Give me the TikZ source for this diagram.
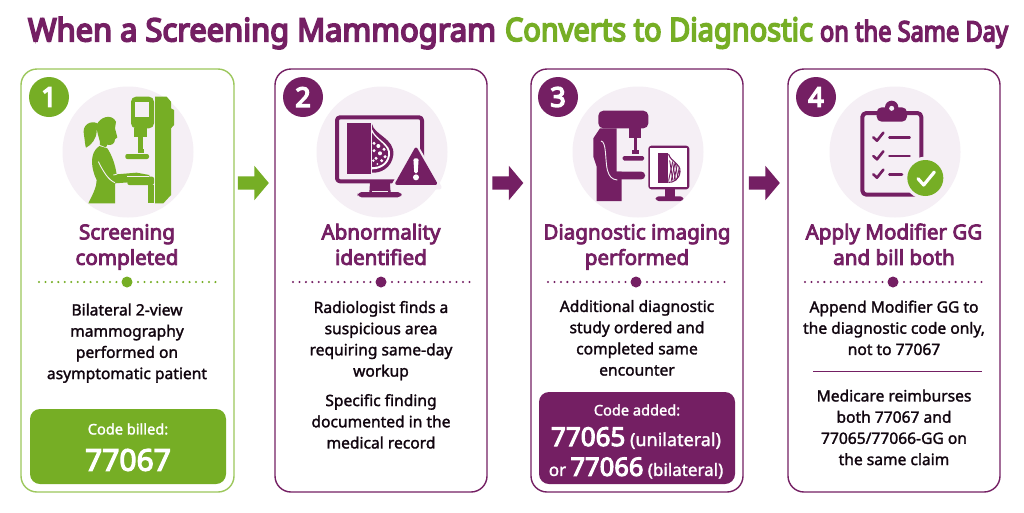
\documentclass[tikz,border=0pt]{standalone}
\usepackage{fontspec}
\usetikzlibrary{shapes.arrows}
\setmainfont{Noto Sans}
\newfontfamily\bodyf{Noto Sans}[FakeBold=1.7]
\newfontfamily\headf{Noto Sans}[FakeBold=4]
\newfontfamily\titlef{Noto Sans}[FakeBold=5.5]
\definecolor{plum}{HTML}{741F63}
\definecolor{leaf}{HTML}{76AE25}
\definecolor{leafedge}{HTML}{9CC75C}
\definecolor{halo}{HTML}{F5EFF5}
\newsavebox\fitbox
\newcommand\fitx[2]{\sbox\fitbox{#2}\pgfmathsetmacro\fitratio{#1/(\wd\fitbox/1pt)}\scalebox{\fitratio}[1]{\usebox\fitbox}}
\tikzset{
  card/.style={draw=#1,line width=1.4pt,fill=white,rounded corners=16pt},
  halodisc/.style={fill=halo,draw=none,circle,minimum size=131pt,inner sep=0pt},
  badge/.style={fill=#1,circle,minimum size=40pt,inner sep=0pt,text=white,font={\titlef\fontsize{27}{27}\selectfont}},
  headtxt/.style={align=center,text=plum,inner sep=0pt,font={\headf\fontsize{20.6}{25.5}\selectfont}},
  bodytxt/.style={align=center,text=black!85!plum,inner sep=0pt,font={\bodyf\fontsize{15.6}{21.2}\selectfont}},
  flow/.style={single arrow,fill=#1,draw=none,inner xsep=0pt,inner ysep=6.5pt,minimum height=31pt,minimum width=34pt,single arrow head extend=10.5pt,single arrow tip angle=100},
  dotrow/.style={draw=#1,line width=2.3pt,line cap=round,dash pattern=on 0pt off 6.45pt},
  codebox/.style={fill=#1,rounded corners=10pt,draw=none},
  zoomed/.style={x=0.33333pt,y=-0.33333pt},
  stroke/.style={draw=#1,line cap=round,line join=round,fill=none},
}
\begin{document}
\begin{tikzpicture}[x=1pt,y=-1pt]
\useasboundingbox (0,0) rectangle (1024,512);
\fill[white] (0,0) rectangle (1024,512);
% title
\node[inner sep=0pt,text=plum,font={\titlef\fontsize{32}{32}\selectfont}] (t1) at (262,33) {\fitx{468}{When a Screening Mammogram}};
\node[inner sep=0pt,text=leaf,font={\titlef\fontsize{32}{32}\selectfont}] (t2) at (659,33) {\fitx{308}{Converts to Diagnostic}};
\node[inner sep=0pt,text=plum,font={\titlef\fontsize{28}{28}\selectfont}] (t3) at (914,34) {\fitx{188}{on the Same Day}};
% cards
\draw[card=leafedge] (21,69) rectangle (234,492);
\draw[card=plum] (275,69) rectangle (487,492);
\draw[card=plum] (531,69) rectangle (743,492);
\draw[card=plum] (788,69) rectangle (1000,492);
% icon discs
\node[halodisc] (d1) at (128,152) {};
\node[halodisc] (d2) at (382,152) {};
\node[halodisc] (d3) at (638,152) {};
\node[halodisc] (d4) at (895,152) {};
% badges
\node[badge=leaf] (n1) at (49,97) {1};
\node[badge=plum] (n2) at (303,97) {2};
\node[badge=plum] (n3) at (558,97) {3};
\node[badge=plum] (n4) at (816,97) {4};
% flow arrows
\node[flow=leaf] (a1) at (250.5,183) {};
\node[flow=plum] (a2) at (505,183) {};
\node[flow=plum] (a3) at (761.5,183) {};
% icon 1
\begin{scope}[shift={(0,60)},zoomed]
  \fill[leaf,rounded corners=5pt] (393,110) rectangle (462,205);
  \fill[halo] (405,125) rectangle (447,170);
  \fill[leaf] (403,205) rectangle (440,230);
  \fill[leaf] (415,230) rectangle (428,268);
  \fill[leaf] (414,266) rectangle (432,280);
  \fill[leaf,rounded corners=2pt] (376,282) rectangle (447,297);
  \fill[leaf] (465,110) -- (500,110) -- (513,125) -- (513,145) -- (522,150) -- (522,195) -- (513,205) -- (513,405) -- (490,430) -- (465,430) -- cycle;
  \fill[leaf,rounded corners=2pt] (382,350) rectangle (462,375);
  \fill[leaf] (445,375) rectangle (462,430);
  % woman
  \fill[leaf] (290,195) .. controls (300,170) and (335,160) .. (348,185) -- (345,205) -- (352,232) -- (345,238) .. controls (345,250) and (335,258) .. (322,254) -- (318,262) -- (300,255) .. controls (302,240) and (290,225) .. (290,195) -- cycle;
  \fill[leaf] (293,190) .. controls (270,180) and (245,195) .. (252,225) .. controls (255,245) and (255,255) .. (258,263) .. controls (275,255) and (290,235) .. (290,212) -- cycle;
  \fill[leaf] (298,258) -- (322,265) .. controls (335,285) and (345,310) .. (350,343) -- (410,338) -- (448,345) -- (448,356) -- (415,365) -- (345,370) -- (345,430) -- (265,430) .. controls (280,400) and (290,380) .. (290,360) .. controls (275,330) and (265,280) .. (298,258) -- cycle;
  \draw[halo,line width=0.9pt] (295,305) .. controls (310,335) and (325,360) .. (345,368);
  \draw[halo,line width=0.9pt] (350,343) -- (340,345);
  \draw[halo,line width=0.8pt] (382,350) -- (448,350);
\end{scope}
% icon 2
\begin{scope}[shift={(270,60)},zoomed]
  \draw[stroke=plum,line width=4pt,rounded corners=3pt] (201,172) rectangle (456,364);
  \fill[plum] (300,368) -- (360,368) -- (362,398) -- (298,398) -- cycle;
  \fill[plum,rounded corners=4pt] (263,396) rectangle (395,412);
  \fill[halo] (305,396) -- (355,396) -- (355,393) -- (305,393) -- cycle;
  \fill[plum] (232,190) rectangle (302,342);
  \fill[plum] (306,192) .. controls (312,225) and (375,235) .. (370,285) .. controls (365,325) and (330,340) .. (306,338) -- cycle;
  \fill[white] (306,208) .. controls (318,240) and (364,250) .. (360,285) .. controls (356,315) and (330,328) .. (306,328) -- cycle;
  \fill[plum] (306,218) .. controls (325,245) and (358,258) .. (354,285) .. controls (350,310) and (328,323) .. (306,321) -- cycle;
  \foreach \px/\py/\pr in {312/250/5,325/258/6,342/268/5,312/272/5,330/280/6,345/290/5,318/295/5,335/302/5,322/312/3,310/302/4}
    \fill[white] (\px,\py) circle[radius=\pr];
  \fill[halo,draw=halo,line width=4pt,line join=round] (438,257) -- (509,382) -- (367,382) -- cycle;
  \fill[plum,draw=plum,line width=3pt,line join=round] (438,267) -- (497,370) -- (380,370) -- cycle;
  \fill[white,rounded corners=1.5pt] (430,295) -- (446,295) -- (443,340) -- (433,340) -- cycle;
  \fill[white] (438,352) circle[radius=9];
\end{scope}
% icon 3
\begin{scope}[shift={(520,60)},zoomed]
  \fill[plum,rounded corners=5pt] (235,152) rectangle (385,205);
  \fill[plum] (328,205) rectangle (364,235);
  \fill[plum] (342,235) rectangle (352,270);
  \fill[plum] (337,270) rectangle (357,282);
  \fill[plum,rounded corners=1.5pt] (308,288) rectangle (372,302);
  \fill[plum] (240,205) -- (290,205) -- (290,335) -- (305,335) -- (305,423) -- (230,423) -- (230,320) -- (220,290) -- (220,235) -- cycle;
  \fill[plum,rounded corners=3.5pt] (280,335) rectangle (375,358);
  \draw[halo,line width=0.9pt] (243,243) .. controls (260,245) and (255,300) .. (262,330) .. controls (268,350) and (275,358) .. (292,360);
  \draw[stroke=plum,line width=2.7pt,rounded corners=2pt] (389,261) rectangle (504,384);
  \fill[white] (391,263) rectangle (502,382);
  \fill[plum] (436,386) -- (465,386) -- (465,410) -- (436,410) -- cycle;
  \fill[plum,rounded corners=3pt] (407,409) rectangle (490,423);
  \fill[plum] (415,280) rectangle (443,370);
  \draw[stroke=plum,line width=1.1pt] (446,283) .. controls (452,305) and (482,310) .. (480,335) .. controls (478,358) and (460,368) .. (446,367);
  \clip (445,300) -- (470,310) -- (480,335) -- (470,358) -- (445,365) -- cycle;
  \foreach \px in {448,456,...,480}{\draw[plum,line width=0.9pt] (\px,295) -- (\px+12,370); \draw[plum,line width=0.9pt] (\px+12,295) -- (\px-4,370);}
\end{scope}
% icon 4
\begin{scope}[shift={(780,60)},zoomed]
  \draw[stroke=plum,line width=4pt,rounded corners=4pt] (247,159) rectangle (424,404);
  \fill[plum,rounded corners=5pt] (290,142) rectangle (381,185);
  \fill[plum] (335,142) circle[radius=20];
  \fill[halo] (335,145) circle[radius=7.5];
  \foreach \cy in {232,288,343}
    \draw[stroke=plum,line width=2.6pt] (280,\cy) -- (291,\cy+10) -- (310,\cy-14);
  \draw[stroke=plum,line width=2.5pt] (328,232) -- (389,232);
  \draw[stroke=plum,line width=2.5pt] (328,288) -- (389,288);
  \draw[stroke=plum,line width=2.5pt] (328,343) -- (366,343);
  \fill[halo] (436,354) circle[radius=64];
  \fill[leaf] (436,354) circle[radius=54];
  \draw[stroke=white,line width=3.2pt] (414,356) -- (431,375) -- (463,336);
\end{scope}
% headings
\node[headtxt] (h1) at (127,247) {\strut Screening\\completed\strut};
\node[headtxt] (h2) at (381,247) {\strut Abnormality\\identified\strut};
\node[headtxt] (h3) at (637,247) {\strut Diagnostic imaging\\performed\strut};
\node[headtxt] (h4) at (894,247) {\strut Apply Modifier GG\\and bill both\strut};
% dotted dividers
\foreach \cx/\col in {127/leaf,381/plum,636/plum,893/plum}{
  \draw[dotrow=\col] (\cx-88,282) -- (\cx-10,282);
  \draw[dotrow=\col] (\cx+11,282) -- (\cx+89,282);
  \fill[\col] (\cx,282) circle[radius=5.5];
}
% body texts
\node[bodytxt] (b1) at (127,343) {\strut Bilateral 2-view\\mammography\\performed on\\asymptomatic patient\strut};
\node[bodytxt] (b2a) at (381,340.5) {\strut Radiologist finds a\\suspicious area\\requiring same-day\\workup\strut};
\node[bodytxt] (b2b) at (381,423) {\strut Specific finding\\documented in the\\medical record\strut};
\node[bodytxt] (b3) at (637,339.5) {\strut Additional diagnostic\\study ordered and\\completed same\\encounter\strut};
\node[bodytxt] (b4a) at (894,329.5) {\strut Append Modifier GG to\\the diagnostic code only,\\not to 77067\strut};
\draw[plum,line width=0.8pt] (813,371) -- (982,371);
\node[bodytxt] (b4b) at (894,429) {\strut Medicare reimburses\\both 77067 and\\77065/77066-GG on\\the same claim\strut};
% code boxes
\fill[codebox=leaf] (30,409) rectangle (226,484);
\node[text=white,inner sep=0pt,font={\bodyf\fontsize{14.6}{17}\selectfont}] (c1) at (128,429) {Code billed:};
\node[text=white,inner sep=0pt,font={\headf\fontsize{30}{30}\selectfont}] (c2) at (128,460) {77067};
\fill[codebox=plum] (539,392) rectangle (735,484);
\node[text=white,inner sep=0pt,font={\bodyf\fontsize{14.6}{17}\selectfont}] (c3) at (637,410) {Code added:};
\node[text=white,inner sep=0pt,font={\bodyf\fontsize{18}{20}\selectfont}] (c4) at (636,438) {{\headf\fontsize{26}{26}\selectfont 77065} (unilateral)};
\node[text=white,inner sep=0pt,font={\bodyf\fontsize{17}{20}\selectfont}] (c5) at (636,468) {or {\headf\fontsize{25.5}{26}\selectfont 77066} (bilateral)};
\end{tikzpicture}
\end{document}
